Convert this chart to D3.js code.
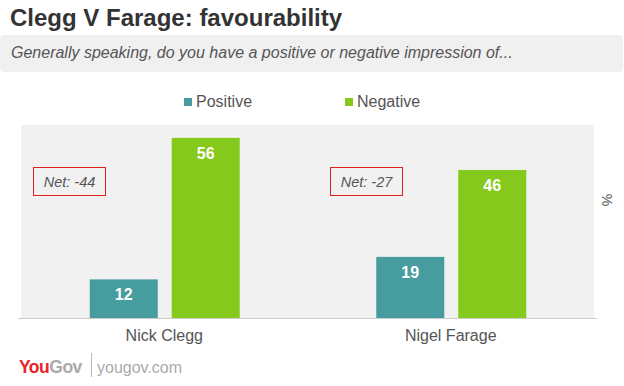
<!DOCTYPE html>
<html>
<head>
<meta charset="utf-8">
<script src="https://cdn.jsdelivr.net/npm/d3@7"></script>
<style>
  body { margin: 0; background: #fff; }
  svg { display: block; font-family: Arial, "Liberation Sans", sans-serif; }
</style>
</head>
<body>
<div id="container"></div>
<script>
const categories = ["Nick Clegg", "Nigel Farage"];
const seriesNames = ["Positive", "Negative"];
const positive = [12, 19];
const negative = [56, 46];
const netLabels = ["Net: -44", "Net: -27"];

const width = 624;
const height = 386;
const colors = { Positive: "#479c9f", Negative: "#84c91c" };
const plot = { left: 21, right: 594, top: 125, bot: 318 };

const svg = d3.select("#container")
              .append("svg")
              .attr("width", width)
              .attr("height", height);

// title + subtitle box
svg.append("text")
   .attr("x", 10).attr("y", 26)
   .attr("font-size", 24).attr("font-weight", "bold")
   .attr("fill", "#333")
   .text("Clegg V Farage: favourability");

svg.append("rect")
   .attr("x", 0).attr("y", 35)
   .attr("width", 623).attr("height", 37)
   .attr("rx", 4)
   .attr("fill", "#f0f0f0");

svg.append("text")
   .attr("x", 11).attr("y", 58)
   .attr("font-size", 16).attr("font-style", "italic")
   .attr("fill", "#555")
   .text("Generally speaking, do you have a positive or negative impression of...");

// plot background
svg.append("rect")
   .attr("x", plot.left).attr("y", plot.top)
   .attr("width", plot.right - plot.left).attr("height", plot.bot - plot.top)
   .attr("fill", "#f1f1f1");

const x0 = d3.scaleBand()
             .domain(categories)
             .range([plot.left, plot.right]);
const x1 = d3.scaleBand()
             .domain(seriesNames)
             .range([0, 150])
             .paddingInner(0.17);
const y = d3.scaleLinear()
            .domain([0, 60])
            .range([plot.bot, plot.top]);

const rows = categories.map((c, i) => ({
  cat: c,
  vals: [{ s: "Positive", v: positive[i] }, { s: "Negative", v: negative[i] }]
}));

const groups = svg.selectAll("g.grp")
  .data(rows)
  .enter()
  .append("g")
  .attr("class", "grp")
  .attr("transform", (d) => "translate(" + (x0(d.cat) + x0.bandwidth()/2 - 75 + 0.5) + ",0)");

groups.selectAll("rect")
  .data((d) => d.vals)
  .enter()
  .append("rect")
  .attr("x", (d) => x1(d.s))
  .attr("width", x1.bandwidth())
  .attr("y", (d) => y(d.v))
  .attr("height", (d) => y(0) - y(d.v))
  .attr("fill", (d) => colors[d.s]);

groups.selectAll("text.val")
  .data((d) => d.vals)
  .enter()
  .append("text")
  .attr("class", "val")
  .attr("x", (d) => x1(d.s) + x1.bandwidth()/2)
  .attr("y", (d) => y(d.v) + 21)
  .attr("text-anchor", "middle")
  .attr("font-size", 16).attr("font-weight", "bold")
  .attr("fill", "#fff")
  .text((d) => d.v);

// x axis
const xAxis = svg.append("g")
  .attr("transform", "translate(0," + plot.bot + ")")
  .call(d3.axisBottom(x0).tickSize(0).tickPadding(12));
xAxis.select(".domain").attr("stroke", "#ccc").attr("d", "M18,0.5H597");
xAxis.selectAll("text")
  .attr("font-size", 16)
  .attr("font-family", "Arial, 'Liberation Sans', sans-serif")
  .attr("fill", "#555");

// net annotation boxes
const netX = [33, 330];
netLabels.forEach((t, i) => {
  svg.append("rect")
     .attr("x", netX[i] + 0.5).attr("y", 167.5)
     .attr("width", 72).attr("height", 28)
     .attr("fill", "none").attr("stroke", "#e02020");
  svg.append("text")
     .attr("x", netX[i] + 36.5).attr("y", 186.5)
     .attr("text-anchor", "middle")
     .attr("font-size", 14.5).attr("font-style", "italic")
     .attr("fill", "#555")
     .text(t);
});

// right axis title
svg.append("text")
   .attr("transform", "translate(602,200)rotate(90)")
   .attr("text-anchor", "middle")
   .attr("font-size", 14)
   .attr("fill", "#555")
   .text("%");

// legend
const legend = svg.selectAll("g.leg")
  .data(seriesNames)
  .enter()
  .append("g")
  .attr("class", "leg")
  .attr("transform", (d, i) => "translate(" + [184, 345][i] + ",0)");
legend.append("rect")
  .attr("x", 0).attr("y", 98)
  .attr("width", 8).attr("height", 8)
  .attr("fill", (d) => colors[d]);
legend.append("text")
  .attr("x", 12).attr("y", 107)
  .attr("font-size", 16)
  .attr("fill", "#555")
  .text((d) => d);

// footer
svg.append("text")
   .attr("x", 19).attr("y", 373)
   .attr("font-size", 17.5).attr("font-weight", "bold")
   .attr("letter-spacing", -0.5)
   .attr("fill", "#e8232a")
   .text("You")
   .append("tspan")
   .attr("fill", "#aaa")
   .text("Gov");
svg.append("line")
   .attr("x1", 91.5).attr("x2", 91.5)
   .attr("y1", 353).attr("y2", 377)
   .attr("stroke", "#bbb");
svg.append("text")
   .attr("x", 97).attr("y", 373)
   .attr("font-size", 16)
   .attr("fill", "#aaa")
   .text("yougov.com");
</script>
</body>
</html>
